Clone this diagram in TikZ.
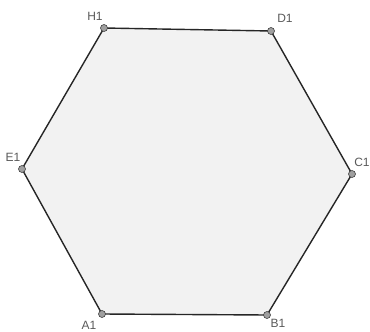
\documentclass[tikz,border=0pt]{standalone}
\usepackage{fontspec}
\setmainfont{Liberation Sans}
\begin{document}
\begin{tikzpicture}[x=1pt,y=-1pt,
  pt/.style={circle,fill=gray!75,draw=black!75,line width=0.6pt,inner sep=0pt,minimum size=7pt},
  lbl/.style={text=black!65,font=\fontsize{12}{12}\selectfont,inner sep=0pt}]
\useasboundingbox (0,0) rectangle (370,332);
\coordinate (H1) at (104,28);
\coordinate (D1) at (271,31);
\coordinate (C1) at (352,174);
\coordinate (B1) at (267,315);
\coordinate (A1) at (102,314);
\coordinate (E1) at (22,169);
\draw[fill=black!5,draw=black!85,line width=1.4pt,line join=round] (H1) -- (D1) -- (C1) -- (B1) -- (A1) -- (E1) -- cycle;
\foreach \p in {H1,D1,C1,B1,A1,E1} \node[pt] (n\p) at (\p) {};
\node[lbl] (lH1) at (95,16) {H1};
\node[lbl] (lD1) at (285,18) {D1};
\node[lbl] (lC1) at (362,162) {C1};
\node[lbl] (lB1) at (278,323) {B1};
\node[lbl] (lA1) at (89,325) {A1};
\node[lbl] (lE1) at (13,157) {E1};
\end{tikzpicture}
\end{document}
